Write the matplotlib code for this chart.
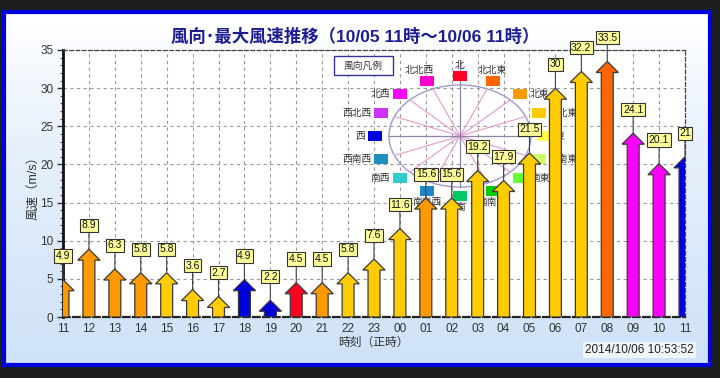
import numpy as np
import matplotlib
matplotlib.use('Agg')
import matplotlib.pyplot as plt
from matplotlib.patches import Rectangle, Ellipse, FancyArrow
import matplotlib.colors as mcolors

plt.rcParams['font.family'] = ['Liberation Sans', 'Noto Sans CJK JP', 'DejaVu Sans']

# ---------------- data ----------------
hours = ['11', '12', '13', '14', '15', '16', '17', '18', '19', '20', '21', '22', '23',
         '00', '01', '02', '03', '04', '05', '06', '07', '08', '09', '10', '11']
speeds = [4.9, 8.9, 6.3, 5.8, 5.8, 3.6, 2.7, 4.9, 2.2, 4.5, 4.5, 5.8, 7.6,
          11.6, 15.6, 15.6, 19.2, 17.9, 21.5, 30, 32.2, 33.5, 24.1, 20.1, 21]
directions = ['北東', '北東', '北東', '北東', '東北東', '東北東', '東北東', '西', '西', '北',
              '北東', '東北東', '東北東', '東北東', '北東', '東北東', '東北東', '東北東',
              '東北東', '東北東', '東北東', '北北東', '北西', '北西', '西']
compass_names = ['北', '北北東', '北東', '東北東', '東', '東南東', '南東', '南南東',
                 '南', '南南西', '南西', '西南西', '西', '西北西', '北西', '北北西']
compass_colors = ['#FF0022', '#FF6600', '#FF9900', '#FFCC00', '#FFFF44', '#CCFF66',
                  '#66FF33', '#00CC00', '#00CC66', '#1E88C8', '#33CCCC', '#1E90C0',
                  '#0000DD', '#CC33FF', '#FF00FF', '#FF00CC']
yticks = [0, 5, 10, 15, 20, 25, 30, 35]
title = '風向･最大風速推移（10/05 11時～10/06 11時）'
timestamp = '2014/10/06 10:53:52'

color_of = dict(zip(compass_names, compass_colors))

# ---------------- figure ----------------
W, H = 720, 378
fig = plt.figure(figsize=(W / 100, H / 100), dpi=100)
fig.patch.set_facecolor('#1E1E1E')

# gradient background panel inside blue frame
fx0, fy0, fx1, fy1 = 4, 12, 710, 365
bg = fig.add_axes([fx0 / W, 1 - fy1 / H, (fx1 - fx0) / W, (fy1 - fy0) / H])
t = np.linspace(0, 1, 256)[:, None]
t = np.clip((t - 0.05) / 0.95, 0, 1) ** 0.7
top = np.array(mcolors.to_rgb('#FFFFFF'))
bot = np.array(mcolors.to_rgb('#CFE2F8'))
grad = top[None, None, :] * (1 - t[..., None]) + bot[None, None, :] * t[..., None]
grad = np.repeat(grad, 4, axis=1)
bg.imshow(grad, extent=[0, 1, 0, 1], aspect='auto', origin='upper')
bg.axis('off')
fig.add_artist(Rectangle((fx0 / W, 1 - fy1 / H), (fx1 - fx0) / W, (fy1 - fy0) / H,
                         transform=fig.transFigure, fill=False, ec='#0000DD', lw=3))

# main axes
ax_l, ax_r, ax_t, ax_b = 63, 685, 50, 317
ax = fig.add_axes([ax_l / W, 1 - ax_b / H, (ax_r - ax_l) / W, (ax_b - ax_t) / H])
ax.set_facecolor('white')
ax.set_xlim(0, len(hours) - 1)
ax.set_ylim(0, 35)
ax.set_xticks(range(len(hours)))
ax.set_xticklabels(hours)
ax.set_yticks(yticks)
ax.set_yticks(range(0, 36), minor=True)
ax.tick_params(axis='x', length=0, pad=4, labelsize=8.5, labelcolor='#333333')
ax.tick_params(axis='y', which='major', length=4, width=1, direction='out', pad=3,
               labelsize=8.5, labelcolor='#333333', color='#333333')
ax.tick_params(axis='y', which='minor', length=2, width=0.8, color='#555555')
ax.grid(True, ls=(0, (3, 3)), color='#9A9A9A', lw=0.8)
ax.set_axisbelow(True)
ax.spines['left'].set_linewidth(2)
ax.spines['left'].set_color('#111111')
ax.spines['bottom'].set_linestyle((0, (3, 1.5)))
ax.spines['bottom'].set_linewidth(1.6)
ax.spines['bottom'].set_color('#222222')
for s in ('top', 'right'):
    ax.spines[s].set_linestyle((0, (3, 2)))
    ax.spines[s].set_linewidth(0.9)
    ax.spines[s].set_color('#444444')


def P(x, y):
    """pixel (from top-left of figure) -> axes fraction"""
    return ((x - ax_l) / (ax_r - ax_l), (ax_b - y) / (ax_b - ax_t))


sx = 1 / (ax_r - ax_l)
sy = 1 / (ax_b - ax_t)

# ---------------- wind direction legend (compass) ----------------
cx, cy = 460, 136
erx, ery = 71, 51
tr = ax.transAxes
ax.add_patch(Ellipse(P(cx, cy), 2 * erx * sx, 2 * ery * sy, transform=tr,
                     fill=False, ec='#9C9CC8', lw=1, zorder=2))
for k in range(16):
    th = np.deg2rad(k * 22.5)
    ex, ey = cx + erx * np.sin(th), cy - ery * np.cos(th)
    (a0, b0), (a1, b1) = P(cx, cy), P(ex, ey)
    ax.plot([a0, a1], [b0, b1], transform=tr, color='#E29AD0', lw=0.8, zorder=2)
(a0, b0), (a1, b1) = P(cx - erx, cy), P(cx + erx, cy)
ax.plot([a0, a1], [b0, b1], transform=tr, color='#8A8AA8', lw=0.9, zorder=2)
(a0, b0), (a1, b1) = P(cx, cy - ery - 25), P(cx, cy + ery)
ax.plot([a0, a1], [b0, b1], transform=tr, color='#8A8AA8', lw=0.9, zorder=2)

srx, sry = 85, 60
qw, qh = 14, 10
for k, (name, col) in enumerate(zip(compass_names, compass_colors)):
    th = np.deg2rad(k * 22.5)
    qx, qy = cx + srx * np.sin(th), cy - sry * np.cos(th)
    ax.add_patch(Rectangle(P(qx - qw / 2, qy + qh / 2), qw * sx, qh * sy, transform=tr,
                           fc=col, ec='none', zorder=3))
    c, s = np.cos(th), np.sin(th)
    if c > 0.85:
        pos, ha, va = P(qx - (8 if s < -0.1 else 0), qy - qh / 2 - 1), 'center', 'bottom'
    elif c < -0.85:
        pos, ha, va = P(qx, qy + qh / 2 + 1), 'center', 'top'
    elif s > 0:
        pos, ha, va = P(qx + qw / 2 + 3, qy), 'left', 'center'
    else:
        pos, ha, va = P(qx - qw / 2 - 3, qy), 'right', 'center'
    ax.text(pos[0], pos[1], name, transform=tr, ha=ha, va=va, fontsize=7,
            color='#333333', zorder=3)

bx0, by0, bx1, by1 = 334, 56, 393, 75
ax.add_patch(Rectangle(P(bx0, by1), (bx1 - bx0) * sx, (by1 - by0) * sy, transform=tr,
                       fc='white', ec='#333399', lw=1, zorder=3))
pc = P((bx0 + bx1) / 2, (by0 + by1) / 2)
ax.text(pc[0], pc[1], '風向凡例', transform=tr, ha='center', va='center', fontsize=7,
        color='#333333', zorder=4)

# ---------------- arrows & labels ----------------
for i, (v, d) in enumerate(zip(speeds, directions)):
    ax.add_patch(FancyArrow(i, 0, 0, v, width=0.46, head_width=0.86, head_length=1.45,
                            length_includes_head=True, fc=color_of[d], ec='#3A3A3A',
                            lw=0.9, zorder=5))
    ax.annotate(f'{v:g}', xy=(i, v), xytext=(i, v + 3.1), ha='center', va='center',
                fontsize=7.5, color='#111111', zorder=7, annotation_clip=False,
                bbox=dict(boxstyle='square,pad=0.15', fc='#FFFF99', ec='#333333', lw=0.8),
                arrowprops=dict(arrowstyle='-', color='#444444', lw=0.8,
                                shrinkA=0, shrinkB=0))

# ---------------- texts ----------------
fig.text(355 / W, 1 - 36 / H, title, ha='center', va='center', fontsize=12.5,
         fontweight='bold', color='#1C1C96')
fig.text(33 / W, 1 - 185 / H, '風速（m/s）', rotation=90, ha='center', va='center',
         fontsize=9, color='#333333')
fig.text(373 / W, 1 - 343 / H, '時刻（正時）', ha='center', va='center',
         fontsize=8.5, color='#333333')
fig.text(694 / W, 1 - 350 / H, timestamp, ha='right', va='center', fontsize=8.5,
         color='#222222', bbox=dict(fc='#F2F6FB', ec='none', pad=1.5))

fig.savefig('out.png', dpi=100, facecolor=fig.get_facecolor())
